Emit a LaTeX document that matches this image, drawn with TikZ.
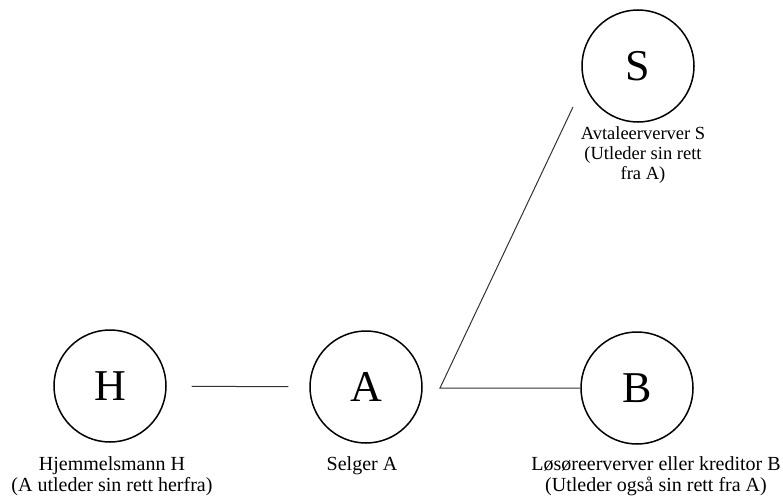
\documentclass[tikz,border=0pt]{standalone}
\usepackage{fontspec}
\setmainfont{Liberation Serif}
\usetikzlibrary{positioning}

\tikzset{
    party/.style={circle, draw, line width=1.5pt, minimum size=112pt, inner sep=0pt,
        font=\fontsize{44}{44}\selectfont},
    caption/.style={align=center, font=\fontsize{20}{21}\selectfont},
    link/.style={line width=1pt, black!80}
}

\begin{document}
\begin{tikzpicture}[x=1pt, y=-1pt]
    \useasboundingbox (0, 0) rectangle (783, 503);

    % parter
    \node[party] (H) at (110, 386) {H};
    \node[party] (A) at (366, 387) {A};
    \node[party] (S) at (638, 66) {S};
    \node[party] (B) at (637, 388) {B};

    % tekst under sirklene
    \node[caption] (lblH) at (112, 476) {Hjemmelsmann H\\(A utleder sin rett herfra)};
    \node[caption] (lblA) at (362, 466) {Selger A};
    \node[caption, font=\fontsize{18.5}{20}\selectfont] (lblS) at (643, 155)
        {Avtaleerverver S\\(Utleder sin rett\\fra A)};
    \node[caption] (lblB) at (656, 476) {Løsøreerverver eller kreditor B\\(Utleder også sin rett fra A)};

    % forbindelser
    \coordinate (fork) at (440, 388);
    \coordinate (tailS) at (573, 107);
    \draw[link, shorten <=25pt, shorten >=21pt] (H) -- (A);
    \draw[link] (tailS) -- (fork) -- (B);
\end{tikzpicture}
\end{document}
